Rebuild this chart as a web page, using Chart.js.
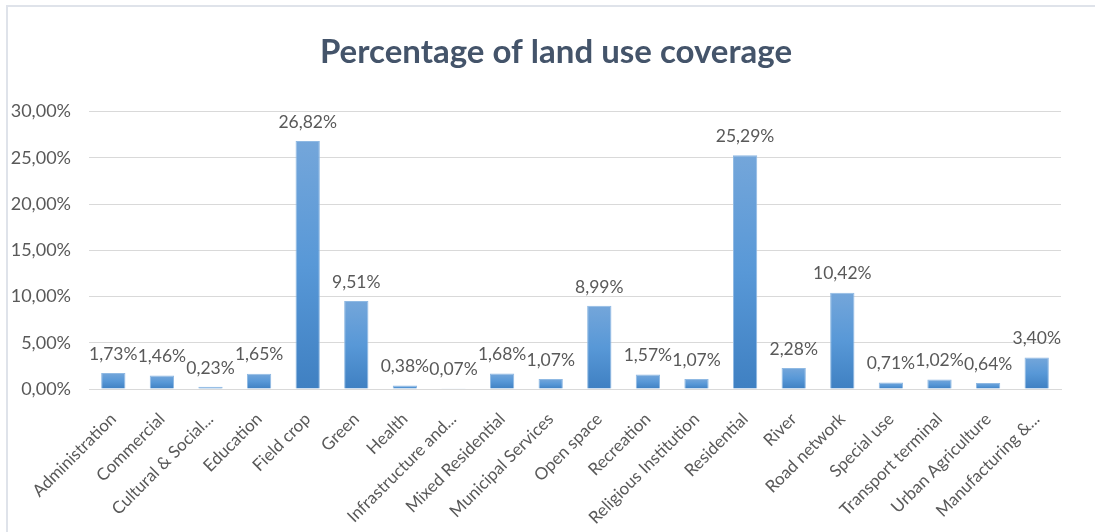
<!DOCTYPE html>
<html>
<head>
<meta charset="utf-8">
<script src="https://cdn.jsdelivr.net/npm/chart.js@4.4.1/dist/chart.umd.min.js"></script>
<style>
html,body{margin:0;padding:0;background:#fff;}
#wrap{position:absolute;left:0;top:0;width:1095px;height:532px;}
</style>
</head>
<body>
<div id="wrap"><canvas id="c" width="1095" height="532"></canvas></div>
<script>
const categories = ["Administration","Commercial","Cultural & Social...","Education","Field crop","Green","Health","Infrastructure and...","Mixed Residential","Municipal Services","Open space","Recreation","Religious Institution","Residential","River","Road network","Special use","Transport terminal","Urban Agriculture","Manufacturing &..."];
const coverage = [1.73,1.46,0.23,1.65,26.82,9.51,0.38,0.07,1.68,1.07,8.99,1.57,1.07,25.29,2.28,10.42,0.71,1.02,0.64,3.40];
const yTicks = [0,5,10,15,20,25,30];
const titleText = "Percentage of land use coverage";

const fmt = v => v.toFixed(2).replace('.', ',') + '%';

const framePlugin = {
  id: 'frame',
  afterLayout(chart) {
    // centre the title over the whole framed chart rather than the padded box
    const tb = chart.titleBlock;
    if (tb) {
      tb.left = 17;
      tb.right = 1095;
      tb.width = tb.right - tb.left;
    }
  },
  beforeDraw(chart) {
    const ctx = chart.ctx;
    ctx.save();
    ctx.fillStyle = '#ffffff';
    ctx.fillRect(0, 0, chart.width, chart.height);
    ctx.strokeStyle = '#dfe3ea';
    ctx.lineWidth = 2;
    ctx.beginPath();
    ctx.moveTo(7, chart.height);
    ctx.lineTo(7, 6);
    ctx.lineTo(1095, 6);
    ctx.stroke();
    ctx.restore();
  }
};

const labelPlugin = {
  id: 'valueLabels',
  afterDatasetsDraw(chart) {
    const ctx = chart.ctx;
    const meta = chart.getDatasetMeta(0);
    ctx.save();
    ctx.font = '17.5px Lato';
    ctx.fillStyle = '#595959';
    ctx.textAlign = 'center';
    ctx.textBaseline = 'middle';
    meta.data.forEach((bar, i) => {
      ctx.fillText(fmt(coverage[i]), bar.x, bar.y - 19);
    });
    ctx.restore();
  }
};

new Chart(document.getElementById('c'), {
  type: 'bar',
  data: {
    labels: categories,
    datasets: [{
      data: coverage,
      backgroundColor: (context) => {
        const chart = context.chart;
        const ys = chart.scales.y;
        if (!ys || context.raw === undefined) return '#5b9bd5';
        const top = ys.getPixelForValue(context.raw);
        const base = ys.getPixelForValue(0);
        if (!isFinite(top) || !isFinite(base) || base - top < 1) return '#5b9bd5';
        const g = chart.ctx.createLinearGradient(0, top, 0, base);
        g.addColorStop(0, '#74a6da');
        g.addColorStop(0.5, '#5898d7');
        g.addColorStop(1, '#3f80c2');
        return g;
      },
      borderColor: '#8fb9e3',
      borderWidth: {top:1,left:1,right:1,bottom:0},
      barPercentage: 0.5,
      categoryPercentage: 1.0
    }]
  },
  options: {
    responsive: false,
    animation: false,
    devicePixelRatio: 1,
    layout: { padding: { left: 0, right: 34, top: 33, bottom: 0 } },
    plugins: {
      legend: { display: false },
      tooltip: { enabled: false },
      title: {
        display: true,
        text: titleText,
        color: '#44546a',
        font: { family: 'Lato', size: 33, weight: 'bold' },
        padding: { top: 0, bottom: 39 }
      }
    },
    scales: {
      x: {
        grid: { display: false },
        border: { display: true, color: '#d9d9d9', width: 1 },
        ticks: {
          color: '#595959',
          font: { family: 'Lato', size: 17 },
          minRotation: 45,
          maxRotation: 45,
          autoSkip: false,
          padding: 12
        },
        afterFit(scale) { scale.height = 143; }
      },
      y: {
        min: 0,
        max: 30,
        afterBuildTicks(scale) { scale.ticks = yTicks.map(v => ({ value: v })); },
        grid: { color: '#d9d9d9', drawTicks: false },
        border: { display: false },
        ticks: {
          color: '#595959',
          font: { family: 'Lato', size: 18 },
          padding: 18,
          callback: (v) => fmt(v)
        },
        afterFit(scale) { scale.width = 89; }
      }
    }
  },
  plugins: [framePlugin, labelPlugin]
});
</script>
</body>
</html>
